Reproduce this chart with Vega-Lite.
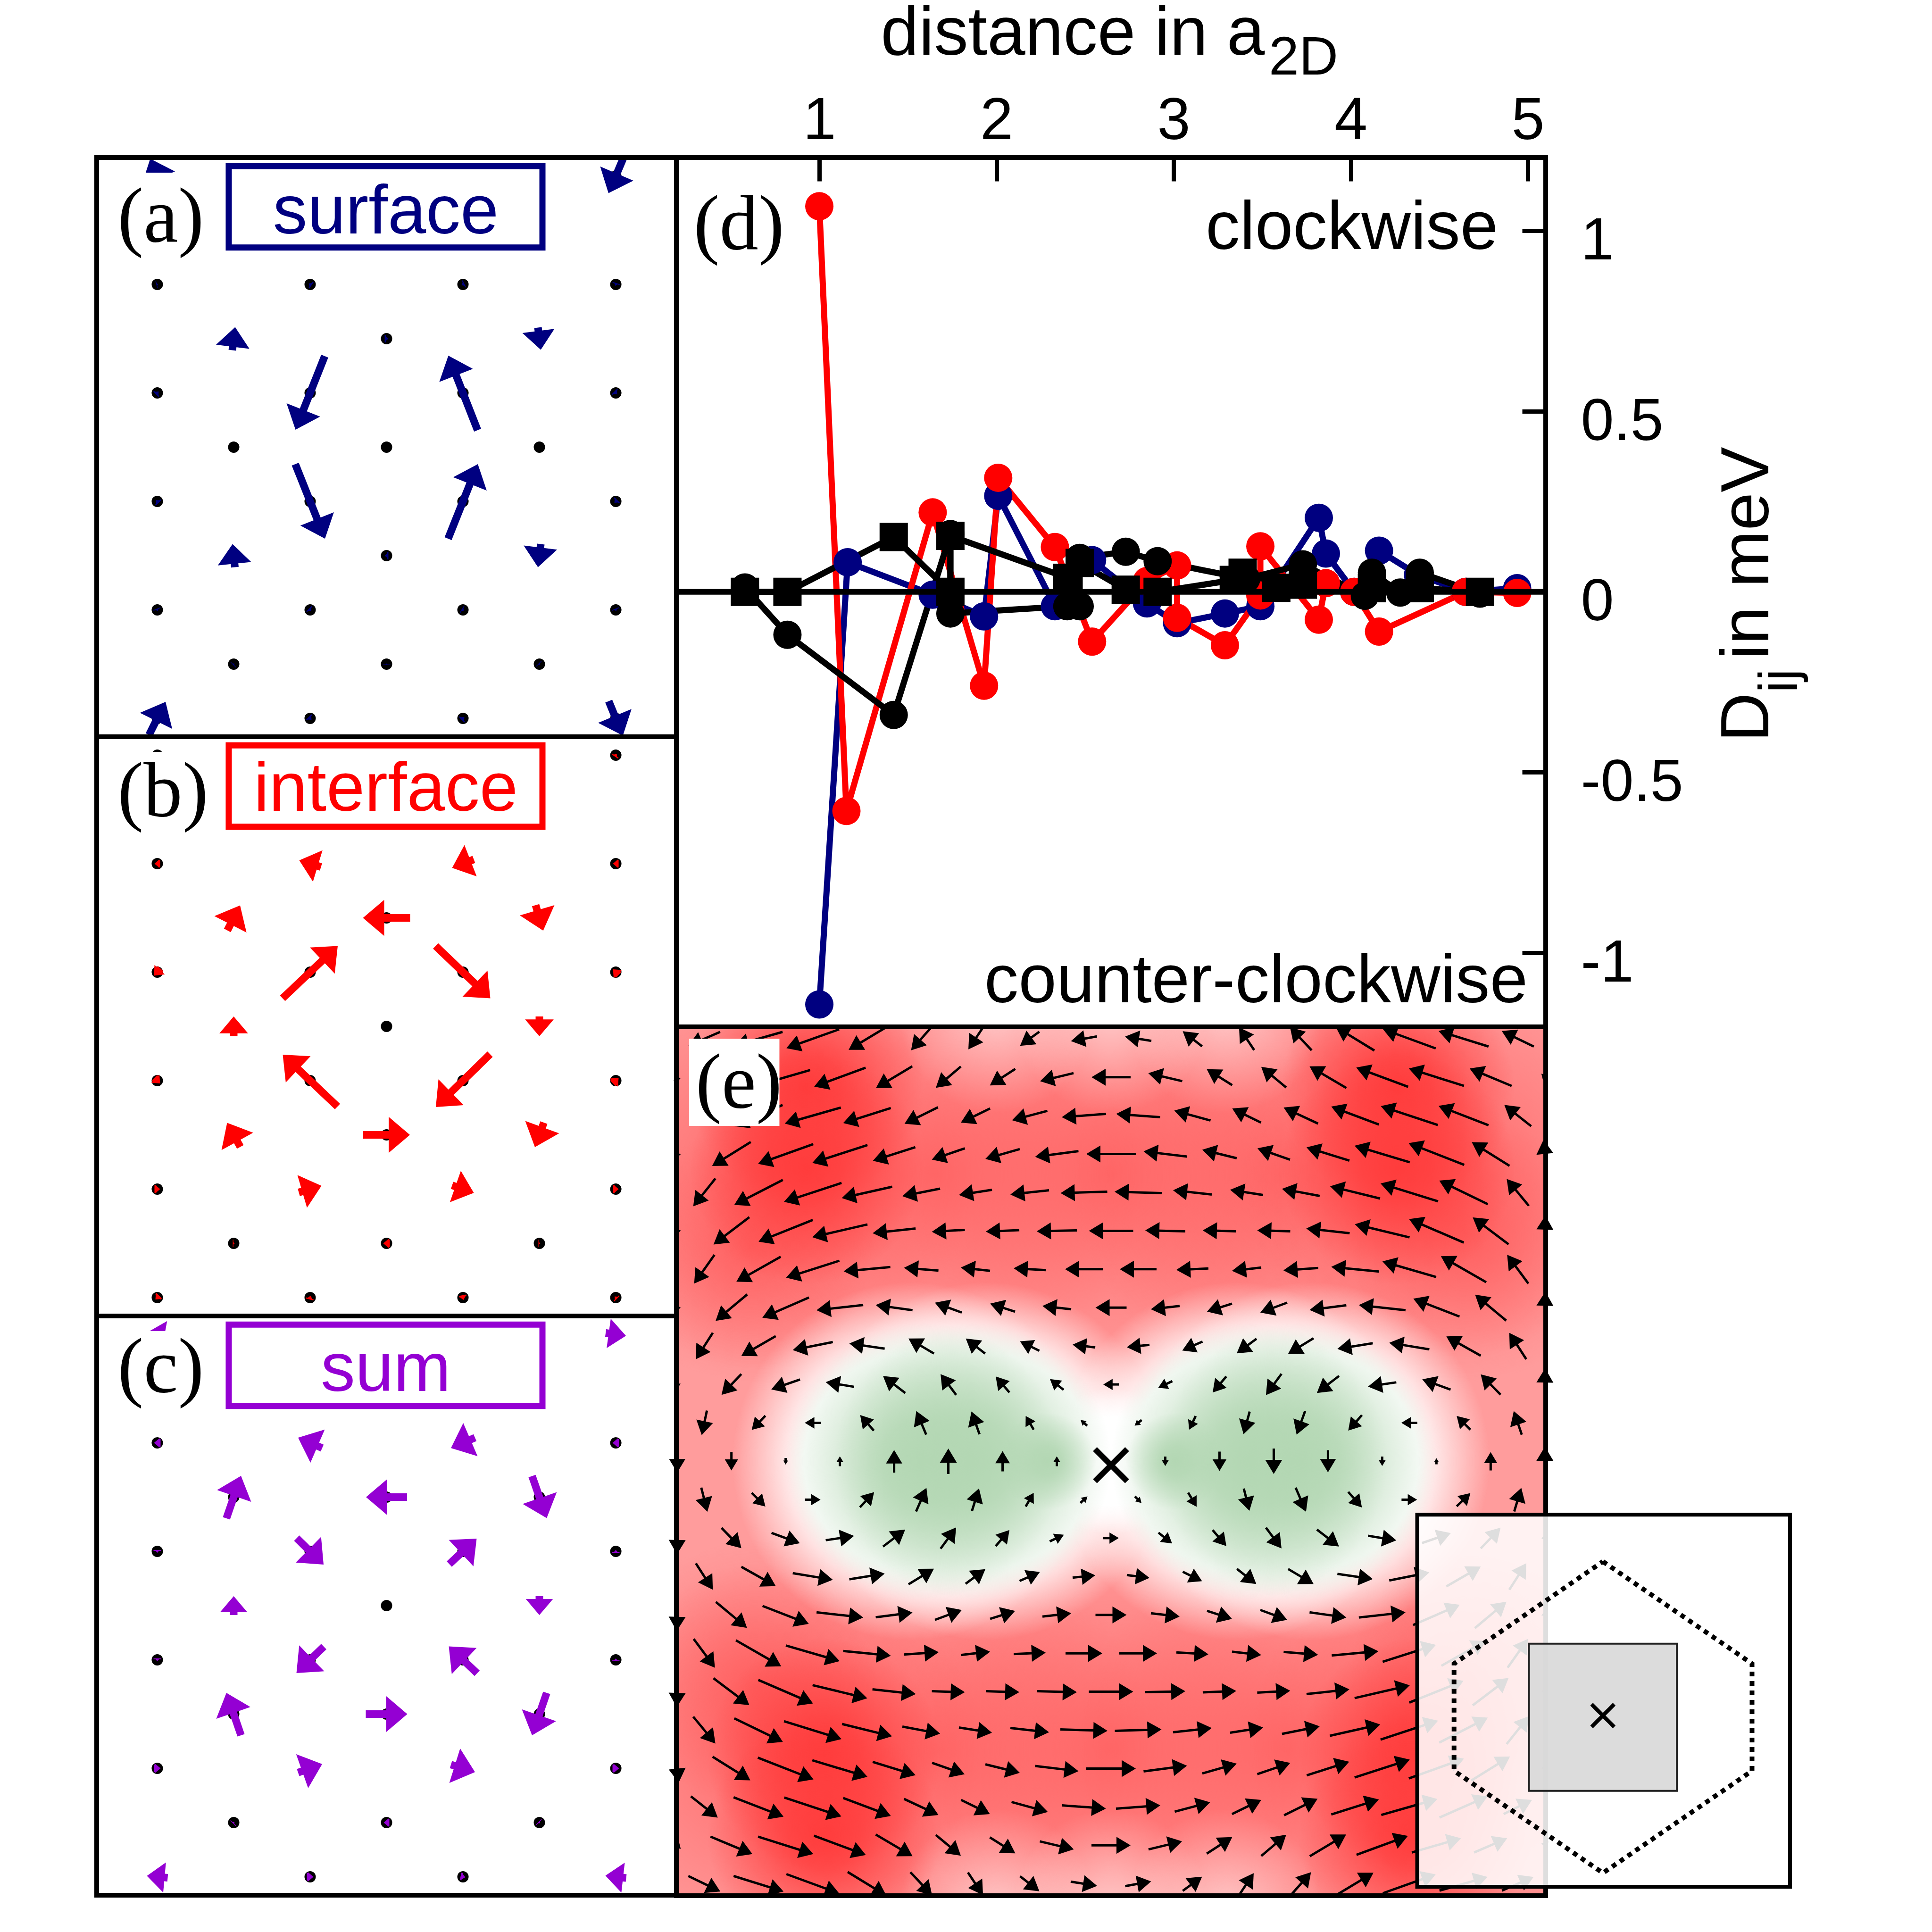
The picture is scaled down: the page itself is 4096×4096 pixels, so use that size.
{"$schema":"https://vega.github.io/schema/vega-lite/v6.json","background":"white","padding":{"left":200,"top":-17,"right":0,"bottom":0},"spacing":-30,"resolve":{"scale":{"color":"independent","shape":"independent","stroke":"independent"}},"config":{"font":"Liberation Sans","axis":{"disable":true},"view":{"stroke":"black","strokeWidth":10}},
"datasets":{
"lat":[{"x":-3,"y":5},{"x":-1,"y":5},{"x":1,"y":5},{"x":3,"y":5},{"x":-2,"y":4},{"x":0,"y":4},{"x":2,"y":4},{"x":-3,"y":3},{"x":-1,"y":3},{"x":1,"y":3},{"x":3,"y":3},{"x":-2,"y":2},{"x":0,"y":2},{"x":2,"y":2},{"x":-3,"y":1},{"x":-1,"y":1},{"x":1,"y":1},{"x":3,"y":1},{"x":-2,"y":0},{"x":0,"y":0},{"x":2,"y":0},{"x":-3,"y":-1},{"x":-1,"y":-1},{"x":1,"y":-1},{"x":3,"y":-1},{"x":-2,"y":-2},{"x":0,"y":-2},{"x":2,"y":-2},{"x":-3,"y":-3},{"x":-1,"y":-3},{"x":1,"y":-3},{"x":3,"y":-3},{"x":-2,"y":-4},{"x":0,"y":-4},{"x":2,"y":-4},{"x":-3,"y":-5},{"x":-1,"y":-5},{"x":1,"y":-5},{"x":3,"y":-5}],
"labels":[{"p":"a","t":"(a)","n":"surface","x":-3.52,"y":3.79,"ny":3.94},{"p":"b","t":"(b)","n":"interface","x":-3.52,"y":3.88,"ny":3.97},{"p":"c","t":"(c)","n":"sum","x":-3.52,"y":3.94,"ny":3.96}],
"spins":[
{"p":"a","x":-1,"y":1,"u":-62,"v":-156},{"p":"a","x":1,"y":1,"u":-62,"v":158},{"p":"a","x":-1,"y":-1,"u":63,"v":-158},{"p":"a","x":1,"y":-1,"u":63,"v":158},{"p":"a","x":-2,"y":2,"u":6,"v":49},{"p":"a","x":2,"y":2,"u":6,"v":-47},{"p":"a","x":-2,"y":-2,"u":-5,"v":49},{"p":"a","x":2,"y":-2,"u":-6,"v":-49},{"p":"a","x":3,"y":5,"u":-31,"v":-73},{"p":"a","x":3,"y":-5,"u":30,"v":-73},{"p":"a","x":-3,"y":-5,"u":35,"v":70},{"p":"a","x":-3,"y":5,"u":-30,"v":73},
{"p":"a","x":-3,"y":3,"u":4,"v":1},{"p":"a","x":-1,"y":3,"u":-6,"v":4},{"p":"a","x":1,"y":3,"u":-6,"v":-3},{"p":"a","x":3,"y":3,"u":-2,"v":-6},{"p":"a","x":0,"y":2,"u":8,"v":0},{"p":"a","x":-3,"y":1,"u":6,"v":6},{"p":"a","x":3,"y":1,"u":6,"v":-6},{"p":"a","x":-3,"y":-1,"u":-6,"v":6},{"p":"a","x":3,"y":-1,"u":-6,"v":-6},{"p":"a","x":0,"y":-2,"u":-8,"v":0},{"p":"a","x":-3,"y":-3,"u":2,"v":-5},{"p":"a","x":-1,"y":-3,"u":5,"v":-5},{"p":"a","x":1,"y":-3,"u":5,"v":-3},{"p":"a","x":3,"y":-3,"u":2,"v":-5},{"p":"a","x":-2,"y":-4,"u":3,"v":3},{"p":"a","x":0,"y":-4,"u":0,"v":3},{"p":"a","x":2,"y":-4,"u":3,"v":-3},{"p":"a","x":-1,"y":-5,"u":6,"v":-6},{"p":"a","x":1,"y":-5,"u":6,"v":6},
{"p":"b","x":-1,"y":1,"u":117,"v":111},{"p":"b","x":1,"y":1,"u":116,"v":-111},{"p":"b","x":-1,"y":-1,"u":-116,"v":110},{"p":"b","x":1,"y":-1,"u":-115,"v":-112},{"p":"b","x":0,"y":2,"u":-100,"v":0},{"p":"b","x":0,"y":-2,"u":99,"v":0},{"p":"b","x":-2,"y":0,"u":0,"v":42},{"p":"b","x":2,"y":0,"u":0,"v":-42},{"p":"b","x":-2,"y":2,"u":27,"v":53},{"p":"b","x":2,"y":2,"u":16,"v":-54},{"p":"b","x":-2,"y":-2,"u":-28,"v":51},{"p":"b","x":2,"y":-2,"u":-19,"v":-52},{"p":"b","x":-1,"y":3,"u":-46,"v":14},{"p":"b","x":1,"y":3,"u":-46,"v":-18},{"p":"b","x":-1,"y":-3,"u":48,"v":14},{"p":"b","x":1,"y":-3,"u":46,"v":-16},
{"p":"b","x":-3,"y":3,"u":-12,"v":0},{"p":"b","x":3,"y":3,"u":-12,"v":0},{"p":"b","x":-3,"y":1,"u":-14,"v":-15},{"p":"b","x":3,"y":1,"u":-12,"v":12},{"p":"b","x":-3,"y":-1,"u":12,"v":-12},{"p":"b","x":3,"y":-1,"u":12,"v":12},{"p":"b","x":-3,"y":-3,"u":12,"v":0},{"p":"b","x":3,"y":-3,"u":12,"v":0},{"p":"b","x":-2,"y":-4,"u":4,"v":0},{"p":"b","x":0,"y":-4,"u":-14,"v":0},{"p":"b","x":2,"y":-4,"u":4,"v":0},{"p":"b","x":-3,"y":-5,"u":-8,"v":-8},{"p":"b","x":-1,"y":-5,"u":2,"v":8},{"p":"b","x":1,"y":-5,"u":2,"v":-10},{"p":"b","x":3,"y":-5,"u":-5,"v":5},{"p":"b","x":3,"y":5,"u":4,"v":6},
{"p":"c","x":-1,"y":1,"u":57,"v":-56},{"p":"c","x":1,"y":1,"u":58,"v":54},{"p":"c","x":-1,"y":-1,"u":-58,"v":-56},{"p":"c","x":1,"y":-1,"u":-60,"v":57},{"p":"c","x":0,"y":2,"u":-87,"v":0},{"p":"c","x":0,"y":-2,"u":88,"v":0},{"p":"c","x":-2,"y":2,"u":31,"v":90},{"p":"c","x":2,"y":2,"u":31,"v":-89},{"p":"c","x":-2,"y":-2,"u":-31,"v":90},{"p":"c","x":2,"y":-2,"u":-31,"v":-90},{"p":"c","x":-2,"y":0,"u":0,"v":40},{"p":"c","x":2,"y":0,"u":0,"v":-40},{"p":"c","x":-1,"y":3,"u":-51,"v":22},{"p":"c","x":1,"y":3,"u":-51,"v":-22},{"p":"c","x":-1,"y":-3,"u":51,"v":18},{"p":"c","x":1,"y":-3,"u":51,"v":-16},{"p":"c","x":3,"y":5,"u":43,"v":-6},{"p":"c","x":-3,"y":5,"u":-43,"v":8},{"p":"c","x":-3,"y":-5,"u":-44,"v":4},{"p":"c","x":3,"y":-5,"u":-44,"v":5},
{"p":"c","x":-3,"y":3,"u":-14,"v":0},{"p":"c","x":3,"y":3,"u":-14,"v":0},{"p":"c","x":-3,"y":1,"u":0,"v":-6},{"p":"c","x":3,"y":1,"u":0,"v":6},{"p":"c","x":-3,"y":-1,"u":0,"v":-6},{"p":"c","x":3,"y":-1,"u":0,"v":6},{"p":"c","x":-3,"y":-3,"u":14,"v":0},{"p":"c","x":3,"y":-3,"u":14,"v":0},{"p":"c","x":-2,"y":-4,"u":3,"v":3},{"p":"c","x":0,"y":-4,"u":-12,"v":0},{"p":"c","x":2,"y":-4,"u":3,"v":-3},{"p":"c","x":-1,"y":-5,"u":14,"v":0},{"p":"c","x":1,"y":-5,"u":10,"v":-2}],
"dmi":[
{"s":"a","x":1.0,"y":-1.143},{"s":"a","x":1.16,"y":0.082},{"s":"a","x":1.64,"y":-0.008},{"s":"a","x":1.93,"y":-0.068},{"s":"a","x":2.01,"y":0.266},{"s":"a","x":2.33,"y":-0.04},{"s":"a","x":2.54,"y":0.088},{"s":"a","x":2.85,"y":-0.032},{"s":"a","x":3.02,"y":-0.087},{"s":"a","x":3.29,"y":-0.06},{"s":"a","x":3.49,"y":-0.04},{"s":"a","x":3.82,"y":0.205},{"s":"a","x":3.86,"y":0.106},{"s":"a","x":4.02,"y":0.0},{"s":"a","x":4.16,"y":0.114},{"s":"a","x":4.38,"y":0.047},{"s":"a","x":4.65,"y":0.0},{"s":"a","x":4.94,"y":0.01},
{"s":"b","x":1.0,"y":1.068},{"s":"b","x":1.153,"y":-0.607},{"s":"b","x":1.64,"y":0.22},{"s":"b","x":1.93,"y":-0.26},{"s":"b","x":2.01,"y":0.316},{"s":"b","x":2.33,"y":0.124},{"s":"b","x":2.54,"y":-0.138},{"s":"b","x":2.85,"y":0.03},{"s":"b","x":3.02,"y":0.073},{"s":"b","x":3.02,"y":-0.072},{"s":"b","x":3.29,"y":-0.148},{"s":"b","x":3.49,"y":-0.01},{"s":"b","x":3.49,"y":0.126},{"s":"b","x":3.82,"y":-0.077},{"s":"b","x":3.86,"y":0.024},{"s":"b","x":4.02,"y":0.0},{"s":"b","x":4.16,"y":-0.11},{"s":"b","x":4.65,"y":0.0},{"s":"b","x":4.94,"y":-0.003},
{"s":"c","x":0.58,"y":0.012},{"s":"c","x":0.82,"y":-0.119},{"s":"c","x":1.42,"y":-0.341},{"s":"c","x":1.74,"y":0.16},{"s":"c","x":1.74,"y":-0.06},{"s":"c","x":2.4,"y":-0.04},{"s":"c","x":2.47,"y":-0.04},{"s":"c","x":2.47,"y":0.094},{"s":"c","x":2.73,"y":0.111},{"s":"c","x":2.91,"y":0.085},{"s":"c","x":3.41,"y":0.036},{"s":"c","x":3.73,"y":0.076},{"s":"c","x":4.08,"y":-0.011},{"s":"c","x":4.12,"y":0.053},{"s":"c","x":4.28,"y":-0.002},{"s":"c","x":4.39,"y":0.053},{"s":"c","x":4.73,"y":-0.005},
{"s":"d","x":0.58,"y":0.0},{"s":"d","x":0.82,"y":0.0},{"s":"d","x":1.42,"y":0.152},{"s":"d","x":1.74,"y":0.0},{"s":"d","x":1.74,"y":0.155},{"s":"d","x":2.4,"y":0.039},{"s":"d","x":2.47,"y":0.08},{"s":"d","x":2.73,"y":0.006},{"s":"d","x":2.91,"y":0.0},{"s":"d","x":3.34,"y":0.033},{"s":"d","x":3.39,"y":0.053},{"s":"d","x":3.58,"y":0.011},{"s":"d","x":3.73,"y":0.02},{"s":"d","x":4.12,"y":0.01},{"s":"d","x":4.39,"y":0.01},{"s":"d","x":4.73,"y":0.0}],
"blobs":[
{"k":"r","x":-12.8,"y":7.48,"r":7.72},{"k":"r","x":-6.45,"y":7.48,"r":7.72},{"k":"r","x":0,"y":7.48,"r":7.72},{"k":"r","x":6.27,"y":7.48,"r":7.72},{"k":"r","x":12.6,"y":7.48,"r":7.72},
{"k":"r","x":-12.6,"y":-7.48,"r":7.72},{"k":"r","x":-6.27,"y":-7.48,"r":7.72},{"k":"r","x":0,"y":-7.48,"r":7.72},{"k":"r","x":6.45,"y":-7.48,"r":7.72},{"k":"r","x":12.8,"y":-7.48,"r":7.72},
{"k":"r","x":-13.3,"y":5.55,"r":4.5},{"k":"r","x":13.1,"y":5.87,"r":4.5},{"k":"r","x":13.3,"y":-5.55,"r":4.5},{"k":"r","x":-13.1,"y":-5.87,"r":4.5},
{"k":"R","x":-11.22,"y":9.72,"r":4.3},{"k":"R","x":-11.22,"y":7.64,"r":4.3},{"k":"R","x":10.58,"y":9.72,"r":4.3},{"k":"R","x":10.58,"y":7.64,"r":4.3},{"k":"R","x":-10.58,"y":-7.64,"r":4.3},{"k":"R","x":-10.58,"y":-9.72,"r":4.3},{"k":"R","x":11.22,"y":-7.64,"r":4.3},{"k":"R","x":11.22,"y":-9.72,"r":4.3},
{"k":"w","x":-4.18,"y":11.6,"r":3.6},{"k":"w","x":0,"y":11.6,"r":3.6},{"k":"w","x":4.18,"y":11.6,"r":3.6},{"k":"w","x":-4.18,"y":-11.6,"r":3.6},{"k":"w","x":0,"y":-11.6,"r":3.6},{"k":"w","x":4.18,"y":-11.6,"r":3.6},
{"k":"W","x":-7.36,"y":0,"r":6.6},{"k":"W","x":-4.63,"y":0,"r":6.6},{"k":"W","x":4.63,"y":0,"r":6.6},{"k":"W","x":7.36,"y":0,"r":6.6},{"k":"W","x":0,"y":0,"r":2.7},
{"k":"g","x":-6.9,"y":0,"r":5.1},{"k":"g","x":-5.1,"y":0,"r":5.1},{"k":"g","x":-2.36,"y":0,"r":1.8},{"k":"g","x":6.9,"y":0,"r":5.1},{"k":"g","x":5.1,"y":0,"r":5.1},{"k":"g","x":2.36,"y":0,"r":1.8}],
"field":[
{"x":-15,"y":11,"u":-67,"v":-29},{"x":-13,"y":11,"u":-102,"v":-29},{"x":-11,"y":11,"u":-112,"v":-40},{"x":-9,"y":11,"u":-78,"v":-47},{"x":-7,"y":11,"u":-43,"v":-49},{"x":-5,"y":11,"u":-30,"v":-45},{"x":-3,"y":11,"u":-41,"v":-30},{"x":-1,"y":11,"u":-55,"v":-10},{"x":1,"y":11,"u":-56,"v":9},{"x":3,"y":11,"u":-41,"v":32},{"x":5,"y":11,"u":-32,"v":48},{"x":7,"y":11,"u":-46,"v":49},{"x":9,"y":11,"u":-82,"v":50},{"x":11,"y":11,"u":-112,"v":41},{"x":13,"y":11,"u":-106,"v":33},{"x":15,"y":11,"u":-68,"v":33},
{"x":-16,"y":10,"u":-15,"v":-17},{"x":-14,"y":10,"u":-70,"v":-30},{"x":-12,"y":10,"u":-104,"v":-30},{"x":-10,"y":10,"u":-109,"v":-40},{"x":-8,"y":10,"u":-77,"v":-46},{"x":-6,"y":10,"u":-53,"v":-45},{"x":-4,"y":10,"u":-54,"v":-35},{"x":-2,"y":10,"u":-71,"v":-17},{"x":0,"y":10,"u":-83,"v":0},{"x":2,"y":10,"u":-72,"v":17},{"x":4,"y":10,"u":-54,"v":34},{"x":6,"y":10,"u":-53,"v":44},{"x":8,"y":10,"u":-78,"v":46},{"x":10,"y":10,"u":-110,"v":41},{"x":12,"y":10,"u":-117,"v":37},{"x":14,"y":10,"u":-89,"v":37},{"x":16,"y":10,"u":-15,"v":15},
{"x":-15,"y":9,"u":-60,"v":-30},{"x":-13,"y":9,"u":-102,"v":-45},{"x":-11,"y":9,"u":-119,"v":-34},{"x":-9,"y":9,"u":-101,"v":-32},{"x":-7,"y":9,"u":-71,"v":-35},{"x":-5,"y":9,"u":-62,"v":-30},{"x":-3,"y":9,"u":-75,"v":-20},{"x":-1,"y":9,"u":-94,"v":-7},{"x":1,"y":9,"u":-93,"v":7},{"x":3,"y":9,"u":-77,"v":21},{"x":5,"y":9,"u":-61,"v":30},{"x":7,"y":9,"u":-73,"v":34},{"x":9,"y":9,"u":-101,"v":38},{"x":11,"y":9,"u":-121,"v":40},{"x":13,"y":9,"u":-106,"v":41},{"x":15,"y":9,"u":-57,"v":45},
{"x":-16,"y":8,"u":-6,"v":-20},{"x":-14,"y":8,"u":-82,"v":-51},{"x":-12,"y":8,"u":-117,"v":-42},{"x":-10,"y":8,"u":-117,"v":-38},{"x":-8,"y":8,"u":-90,"v":-29},{"x":-6,"y":8,"u":-70,"v":-24},{"x":-4,"y":8,"u":-73,"v":-21},{"x":-2,"y":8,"u":-92,"v":-12},{"x":0,"y":8,"u":-105,"v":0},{"x":2,"y":8,"u":-92,"v":11},{"x":4,"y":8,"u":-73,"v":18},{"x":6,"y":8,"u":-69,"v":24},{"x":8,"y":8,"u":-91,"v":28},{"x":10,"y":8,"u":-117,"v":35},{"x":12,"y":8,"u":-118,"v":46},{"x":14,"y":8,"u":-80,"v":50},{"x":16,"y":8,"u":-6,"v":60},
{"x":-15,"y":7,"u":-47,"v":-59},{"x":-13,"y":7,"u":-103,"v":-53},{"x":-11,"y":7,"u":-122,"v":-40},{"x":-9,"y":7,"u":-107,"v":-24},{"x":-7,"y":7,"u":-80,"v":-16},{"x":-5,"y":7,"u":-70,"v":-11},{"x":-3,"y":7,"u":-82,"v":-9},{"x":-1,"y":7,"u":-99,"v":-3},{"x":1,"y":7,"u":-100,"v":3},{"x":3,"y":7,"u":-82,"v":9},{"x":5,"y":7,"u":-70,"v":11},{"x":7,"y":7,"u":-80,"v":15},{"x":9,"y":7,"u":-106,"v":26},{"x":11,"y":7,"u":-122,"v":38},{"x":13,"y":7,"u":-103,"v":50},{"x":15,"y":7,"u":-47,"v":57},
{"x":-16,"y":6,"u":-2,"v":-20},{"x":-14,"y":6,"u":-76,"v":-58},{"x":-12,"y":6,"u":-115,"v":-46},{"x":-10,"y":6,"u":-117,"v":-27},{"x":-8,"y":6,"u":-91,"v":-10},{"x":-6,"y":6,"u":-70,"v":-4},{"x":-4,"y":6,"u":-71,"v":-3},{"x":-2,"y":6,"u":-85,"v":-2},{"x":0,"y":6,"u":-94,"v":0},{"x":2,"y":6,"u":-85,"v":2},{"x":4,"y":6,"u":-71,"v":2},{"x":6,"y":6,"u":-70,"v":2},{"x":8,"y":6,"u":-92,"v":10},{"x":10,"y":6,"u":-116,"v":28},{"x":12,"y":6,"u":-116,"v":50},{"x":14,"y":6,"u":-76,"v":57},{"x":16,"y":6,"u":2,"v":65},
{"x":-15,"y":5,"u":-43,"v":-61},{"x":-13,"y":5,"u":-94,"v":-53},{"x":-11,"y":5,"u":-113,"v":-36},{"x":-9,"y":5,"u":-99,"v":-9},{"x":-7,"y":5,"u":-73,"v":6},{"x":-5,"y":5,"u":-62,"v":7},{"x":-3,"y":5,"u":-68,"v":4},{"x":-1,"y":5,"u":-80,"v":0},{"x":1,"y":5,"u":-78,"v":0},{"x":3,"y":5,"u":-68,"v":-3},{"x":5,"y":5,"u":-62,"v":-7},{"x":7,"y":5,"u":-74,"v":-5},{"x":9,"y":5,"u":-101,"v":10},{"x":11,"y":5,"u":-114,"v":33},{"x":13,"y":5,"u":-96,"v":55},{"x":15,"y":5,"u":-45,"v":61},
{"x":-16,"y":4,"u":-2,"v":-20},{"x":-14,"y":4,"u":-67,"v":-56},{"x":-12,"y":4,"u":-99,"v":-43},{"x":-10,"y":4,"u":-99,"v":-11},{"x":-8,"y":4,"u":-78,"v":11},{"x":-6,"y":4,"u":-57,"v":21},{"x":-4,"y":4,"u":-53,"v":17},{"x":-2,"y":4,"u":-61,"v":7},{"x":0,"y":4,"u":-66,"v":0},{"x":2,"y":4,"u":-61,"v":-7},{"x":4,"y":4,"u":-53,"v":-17},{"x":6,"y":4,"u":-57,"v":-21},{"x":8,"y":4,"u":-78,"v":-10},{"x":10,"y":4,"u":-99,"v":11},{"x":12,"y":4,"u":-98,"v":38},{"x":14,"y":4,"u":-66,"v":55},{"x":16,"y":4,"u":2,"v":68},
{"x":-15,"y":3,"u":-36,"v":-56},{"x":-13,"y":3,"u":-73,"v":-42},{"x":-11,"y":3,"u":-85,"v":-17},{"x":-9,"y":3,"u":-75,"v":11},{"x":-7,"y":3,"u":-54,"v":32},{"x":-5,"y":3,"u":-41,"v":32},{"x":-3,"y":3,"u":-41,"v":20},{"x":-1,"y":3,"u":-48,"v":6},{"x":1,"y":3,"u":-48,"v":-5},{"x":3,"y":3,"u":-43,"v":-19},{"x":5,"y":3,"u":-42,"v":-31},{"x":7,"y":3,"u":-54,"v":-33},{"x":9,"y":3,"u":-75,"v":-12},{"x":11,"y":3,"u":-85,"v":14},{"x":13,"y":3,"u":-73,"v":41},{"x":15,"y":3,"u":-36,"v":56},
{"x":-16,"y":2,"u":-1,"v":-20},{"x":-14,"y":2,"u":-42,"v":-44},{"x":-12,"y":2,"u":-61,"v":-21},{"x":-10,"y":2,"u":-60,"v":10},{"x":-8,"y":2,"u":-47,"v":36},{"x":-6,"y":2,"u":-33,"v":44},{"x":-4,"y":2,"u":-29,"v":34},{"x":-2,"y":2,"u":-29,"v":23},{"x":0,"y":2,"u":-33,"v":0},{"x":2,"y":2,"u":-30,"v":-14},{"x":4,"y":2,"u":-29,"v":-34},{"x":6,"y":2,"u":-33,"v":-45},{"x":8,"y":2,"u":-47,"v":-36},{"x":10,"y":2,"u":-60,"v":-9},{"x":12,"y":2,"u":-60,"v":22},{"x":14,"y":2,"u":-42,"v":43},{"x":16,"y":2,"u":1,"v":68},
{"x":-15,"y":1,"u":-11,"v":-52},{"x":-13,"y":1,"u":-29,"v":-30},{"x":-11,"y":1,"u":-34,"v":0},{"x":-9,"y":1,"u":-29,"v":33},{"x":-7,"y":1,"u":-21,"v":50},{"x":-5,"y":1,"u":-17,"v":48},{"x":-3,"y":1,"u":-17,"v":29},{"x":-1,"y":1,"u":-14,"v":12},{"x":1,"y":1,"u":-15,"v":-12},{"x":3,"y":1,"u":-14,"v":-29},{"x":5,"y":1,"u":-13,"v":-48},{"x":7,"y":1,"u":-18,"v":-50},{"x":9,"y":1,"u":-29,"v":-33},{"x":11,"y":1,"u":-34,"v":0},{"x":13,"y":1,"u":-29,"v":29},{"x":15,"y":1,"u":-17,"v":50},
{"x":-16,"y":0,"u":0,"v":-48},{"x":-14,"y":0,"u":0,"v":-39},{"x":-12,"y":0,"u":0,"v":-14},{"x":-10,"y":0,"u":0,"v":21},{"x":-8,"y":0,"u":0,"v":48},{"x":-6,"y":0,"u":0,"v":54},{"x":-4,"y":0,"u":0,"v":43},{"x":-2,"y":0,"u":0,"v":21},{"x":2,"y":0,"u":0,"v":-20},{"x":4,"y":0,"u":0,"v":-41},{"x":6,"y":0,"u":0,"v":-54},{"x":8,"y":0,"u":0,"v":-47},{"x":10,"y":0,"u":0,"v":-20},{"x":12,"y":0,"u":0,"v":13},{"x":14,"y":0,"u":0,"v":39},{"x":16,"y":0,"u":0,"v":62},
{"x":-15,"y":-1,"u":13,"v":-51},{"x":-13,"y":-1,"u":29,"v":-29},{"x":-11,"y":-1,"u":33,"v":0},{"x":-9,"y":-1,"u":30,"v":32},{"x":-7,"y":-1,"u":22,"v":50},{"x":-5,"y":-1,"u":15,"v":48},{"x":-3,"y":-1,"u":17,"v":29},{"x":-1,"y":-1,"u":15,"v":14},{"x":1,"y":-1,"u":14,"v":-14},{"x":3,"y":-1,"u":18,"v":-30},{"x":5,"y":-1,"u":12,"v":-47},{"x":7,"y":-1,"u":22,"v":-51},{"x":9,"y":-1,"u":29,"v":-33},{"x":11,"y":-1,"u":33,"v":0},{"x":13,"y":-1,"u":29,"v":28},{"x":15,"y":-1,"u":15,"v":50},
{"x":-16,"y":-2,"u":-1,"v":-68},{"x":-14,"y":-2,"u":42,"v":-43},{"x":-12,"y":-2,"u":60,"v":-22},{"x":-10,"y":-2,"u":60,"v":9},{"x":-8,"y":-2,"u":47,"v":36},{"x":-6,"y":-2,"u":33,"v":45},{"x":-4,"y":-2,"u":29,"v":34},{"x":-2,"y":-2,"u":30,"v":14},{"x":0,"y":-2,"u":33,"v":0},{"x":2,"y":-2,"u":29,"v":-23},{"x":4,"y":-2,"u":29,"v":-34},{"x":6,"y":-2,"u":33,"v":-44},{"x":8,"y":-2,"u":47,"v":-36},{"x":10,"y":-2,"u":60,"v":-10},{"x":12,"y":-2,"u":61,"v":21},{"x":14,"y":-2,"u":42,"v":44},{"x":16,"y":-2,"u":1,"v":20},
{"x":-15,"y":-3,"u":36,"v":-56},{"x":-13,"y":-3,"u":73,"v":-41},{"x":-11,"y":-3,"u":85,"v":-14},{"x":-9,"y":-3,"u":75,"v":12},{"x":-7,"y":-3,"u":54,"v":33},{"x":-5,"y":-3,"u":42,"v":31},{"x":-3,"y":-3,"u":43,"v":19},{"x":-1,"y":-3,"u":48,"v":5},{"x":1,"y":-3,"u":48,"v":-6},{"x":3,"y":-3,"u":41,"v":-20},{"x":5,"y":-3,"u":41,"v":-32},{"x":7,"y":-3,"u":54,"v":-32},{"x":9,"y":-3,"u":75,"v":-11},{"x":11,"y":-3,"u":85,"v":17},{"x":13,"y":-3,"u":73,"v":42},{"x":15,"y":-3,"u":36,"v":56},
{"x":-16,"y":-4,"u":-2,"v":-68},{"x":-14,"y":-4,"u":66,"v":-55},{"x":-12,"y":-4,"u":98,"v":-38},{"x":-10,"y":-4,"u":99,"v":-11},{"x":-8,"y":-4,"u":78,"v":10},{"x":-6,"y":-4,"u":57,"v":21},{"x":-4,"y":-4,"u":53,"v":17},{"x":-2,"y":-4,"u":61,"v":7},{"x":0,"y":-4,"u":66,"v":0},{"x":2,"y":-4,"u":61,"v":-7},{"x":4,"y":-4,"u":53,"v":-17},{"x":6,"y":-4,"u":57,"v":-21},{"x":8,"y":-4,"u":78,"v":-11},{"x":10,"y":-4,"u":99,"v":11},{"x":12,"y":-4,"u":99,"v":43},{"x":14,"y":-4,"u":67,"v":56},{"x":16,"y":-4,"u":2,"v":20},
{"x":-15,"y":-5,"u":45,"v":-61},{"x":-13,"y":-5,"u":96,"v":-55},{"x":-11,"y":-5,"u":114,"v":-33},{"x":-9,"y":-5,"u":101,"v":-10},{"x":-7,"y":-5,"u":74,"v":5},{"x":-5,"y":-5,"u":62,"v":7},{"x":-3,"y":-5,"u":68,"v":3},{"x":-1,"y":-5,"u":78,"v":0},{"x":1,"y":-5,"u":80,"v":0},{"x":3,"y":-5,"u":68,"v":-4},{"x":5,"y":-5,"u":62,"v":-7},{"x":7,"y":-5,"u":73,"v":-6},{"x":9,"y":-5,"u":99,"v":9},{"x":11,"y":-5,"u":113,"v":36},{"x":13,"y":-5,"u":94,"v":53},{"x":15,"y":-5,"u":43,"v":61},
{"x":-16,"y":-6,"u":-2,"v":-65},{"x":-14,"y":-6,"u":76,"v":-57},{"x":-12,"y":-6,"u":116,"v":-50},{"x":-10,"y":-6,"u":116,"v":-28},{"x":-8,"y":-6,"u":92,"v":-10},{"x":-6,"y":-6,"u":70,"v":-2},{"x":-4,"y":-6,"u":71,"v":-2},{"x":-2,"y":-6,"u":85,"v":-2},{"x":0,"y":-6,"u":94,"v":0},{"x":2,"y":-6,"u":85,"v":2},{"x":4,"y":-6,"u":71,"v":3},{"x":6,"y":-6,"u":70,"v":4},{"x":8,"y":-6,"u":91,"v":10},{"x":10,"y":-6,"u":117,"v":27},{"x":12,"y":-6,"u":115,"v":46},{"x":14,"y":-6,"u":76,"v":58},{"x":16,"y":-6,"u":2,"v":20},
{"x":-15,"y":-7,"u":47,"v":-57},{"x":-13,"y":-7,"u":103,"v":-50},{"x":-11,"y":-7,"u":122,"v":-38},{"x":-9,"y":-7,"u":106,"v":-26},{"x":-7,"y":-7,"u":80,"v":-15},{"x":-5,"y":-7,"u":70,"v":-11},{"x":-3,"y":-7,"u":82,"v":-9},{"x":-1,"y":-7,"u":100,"v":-3},{"x":1,"y":-7,"u":99,"v":3},{"x":3,"y":-7,"u":82,"v":9},{"x":5,"y":-7,"u":70,"v":11},{"x":7,"y":-7,"u":80,"v":16},{"x":9,"y":-7,"u":107,"v":24},{"x":11,"y":-7,"u":122,"v":40},{"x":13,"y":-7,"u":103,"v":53},{"x":15,"y":-7,"u":47,"v":59},
{"x":-16,"y":-8,"u":6,"v":-60},{"x":-14,"y":-8,"u":80,"v":-50},{"x":-12,"y":-8,"u":118,"v":-46},{"x":-10,"y":-8,"u":117,"v":-35},{"x":-8,"y":-8,"u":91,"v":-28},{"x":-6,"y":-8,"u":69,"v":-24},{"x":-4,"y":-8,"u":73,"v":-18},{"x":-2,"y":-8,"u":92,"v":-11},{"x":0,"y":-8,"u":105,"v":0},{"x":2,"y":-8,"u":92,"v":12},{"x":4,"y":-8,"u":73,"v":21},{"x":6,"y":-8,"u":70,"v":24},{"x":8,"y":-8,"u":90,"v":29},{"x":10,"y":-8,"u":117,"v":38},{"x":12,"y":-8,"u":117,"v":42},{"x":14,"y":-8,"u":82,"v":51},{"x":16,"y":-8,"u":6,"v":20},
{"x":-15,"y":-9,"u":57,"v":-45},{"x":-13,"y":-9,"u":106,"v":-41},{"x":-11,"y":-9,"u":121,"v":-40},{"x":-9,"y":-9,"u":101,"v":-38},{"x":-7,"y":-9,"u":73,"v":-34},{"x":-5,"y":-9,"u":61,"v":-30},{"x":-3,"y":-9,"u":77,"v":-21},{"x":-1,"y":-9,"u":93,"v":-7},{"x":1,"y":-9,"u":94,"v":7},{"x":3,"y":-9,"u":75,"v":20},{"x":5,"y":-9,"u":62,"v":30},{"x":7,"y":-9,"u":71,"v":35},{"x":9,"y":-9,"u":101,"v":32},{"x":11,"y":-9,"u":119,"v":34},{"x":13,"y":-9,"u":102,"v":45},{"x":15,"y":-9,"u":60,"v":30},
{"x":-16,"y":-10,"u":15,"v":-15},{"x":-14,"y":-10,"u":89,"v":-37},{"x":-12,"y":-10,"u":117,"v":-37},{"x":-10,"y":-10,"u":110,"v":-41},{"x":-8,"y":-10,"u":78,"v":-46},{"x":-6,"y":-10,"u":53,"v":-44},{"x":-4,"y":-10,"u":54,"v":-34},{"x":-2,"y":-10,"u":72,"v":-17},{"x":0,"y":-10,"u":83,"v":0},{"x":2,"y":-10,"u":71,"v":17},{"x":4,"y":-10,"u":54,"v":35},{"x":6,"y":-10,"u":53,"v":45},{"x":8,"y":-10,"u":77,"v":46},{"x":10,"y":-10,"u":109,"v":40},{"x":12,"y":-10,"u":104,"v":30},{"x":14,"y":-10,"u":70,"v":30},{"x":16,"y":-10,"u":15,"v":17},
{"x":-15,"y":-11,"u":68,"v":-33},{"x":-13,"y":-11,"u":106,"v":-33},{"x":-11,"y":-11,"u":112,"v":-41},{"x":-9,"y":-11,"u":82,"v":-50},{"x":-7,"y":-11,"u":46,"v":-49},{"x":-5,"y":-11,"u":32,"v":-48},{"x":-3,"y":-11,"u":41,"v":-32},{"x":-1,"y":-11,"u":56,"v":-9},{"x":1,"y":-11,"u":55,"v":10},{"x":3,"y":-11,"u":41,"v":30},{"x":5,"y":-11,"u":30,"v":45},{"x":7,"y":-11,"u":43,"v":49},{"x":9,"y":-11,"u":78,"v":47},{"x":11,"y":-11,"u":112,"v":40},{"x":13,"y":-11,"u":102,"v":29},{"x":15,"y":-11,"u":67,"v":29}]
},
"hconcat":[
{"width":1224,"height":3684,"view":{"stroke":null},
"encoding":{"x":{"type":"quantitative","title":null,"scale":{"domain":[-3.793,3.762],"nice":false,"zero":false}},"y":{"type":"quantitative","title":null,"scale":{"domain":[-16.017,16.017],"nice":false,"zero":false}}},
"layer":[
{"data":{"name":"lat"},"transform":[{"calculate":"[10.678,0,-10.678]","as":"o"},{"flatten":["o"]},{"calculate":"datum.y+datum.o","as":"Y"}],"mark":{"type":"point","filled":true,"color":"black","opacity":1,"size":576,"shape":"circle"},"encoding":{"x":{"field":"x"},"y":{"field":"Y"}}},
{"data":{"name":"spins"},"transform":[{"calculate":"datum.p=='a'?10.678:datum.p=='b'?0:-10.678","as":"o"},{"calculate":"sqrt(datum.u*datum.u+datum.v*datum.v)","as":"L"},{"calculate":"atan2(datum.u,datum.v)*180/PI","as":"a"},{"calculate":"min(45,0.85*datum.L)","as":"H"},{"calculate":"datum.H*datum.H","as":"h"},{"calculate":"datum.x+datum.u/324","as":"xt"},{"calculate":"datum.y+datum.o+datum.v/230","as":"yt"},{"calculate":"datum.x-datum.u/324","as":"xb"},{"calculate":"datum.y+datum.o-datum.v/230","as":"yb"},{"calculate":"datum.xt-datum.u/datum.L*0.8*datum.H/162","as":"xm"},{"calculate":"datum.yt-datum.v/datum.L*0.8*datum.H/115","as":"ym"}],
"layer":[
{"mark":{"type":"rule","strokeWidth":16,"clip":true},"encoding":{"x":{"field":"xb"},"x2":{"field":"xm"},"y":{"field":"yb"},"y2":{"field":"ym"},"color":{"field":"p","type":"nominal","legend":null,"scale":{"domain":["a","b","c"],"range":["#000080","#ff0000","#9400d3"]}}}},
{"mark":{"type":"point","filled":true,"opacity":1,"strokeWidth":0,"shape":"M0,0L1.7,2L-1.7,2Z","clip":true},"encoding":{"x":{"field":"xt"},"y":{"field":"yt"},"size":{"field":"h","type":"quantitative","scale":null},"angle":{"field":"a","type":"quantitative","scale":null},"color":{"field":"p","type":"nominal","legend":null,"scale":{"domain":["a","b","c"],"range":["#000080","#ff0000","#9400d3"]}}}}]},
{"data":{"name":"labels"},"transform":[{"calculate":"datum.p=='a'?10.678:datum.p=='b'?0:-10.678","as":"o"},{"calculate":"datum.y+datum.o","as":"Y"},{"calculate":"datum.ny+datum.o","as":"nY"},{"calculate":"5.06+datum.o","as":"w1"},{"calculate":"3.5+datum.o","as":"w0"},{"calculate":"5.18+datum.o","as":"b1"},{"calculate":"3.68+datum.o","as":"b0"}],
"layer":[
{"mark":{"type":"rect","fill":"white"},"encoding":{"x":{"datum":-3.6},"x2":{"datum":-2.25},"y":{"field":"w1"},"y2":{"field":"w0"}}},
{"mark":{"type":"rect","fill":"white","strokeWidth":13},"encoding":{"x":{"datum":-2.065},"x2":{"datum":2.04},"y":{"field":"b1"},"y2":{"field":"b0"},"stroke":{"field":"p","type":"nominal","legend":null,"scale":{"domain":["a","b","c"],"range":["#000080","#ff0000","#9400d3"]}}}},
{"mark":{"type":"text","font":"Liberation Serif","fontSize":165,"align":"left","baseline":"alphabetic","color":"black"},"encoding":{"x":{"field":"x"},"y":{"field":"Y"},"text":{"field":"t"}}},
{"mark":{"type":"text","font":"Liberation Sans","fontSize":146,"align":"center","baseline":"alphabetic"},"encoding":{"x":{"datum":-0.01},"y":{"field":"nY"},"text":{"field":"n"},"color":{"field":"p","type":"nominal","legend":null,"scale":{"domain":["a","b","c"],"range":["#000080","#ff0000","#9400d3"]}}}}]},
{"data":{"values":[{"y":16.017},{"y":5.339},{"y":-5.339},{"y":-16.017}]},"mark":{"type":"rule","strokeWidth":10,"color":"black"},"encoding":{"y":{"field":"y"}}},
{"data":{"values":[{"x":-3.793,"y0":16.06,"y1":-16.06}]},"mark":{"type":"rule","strokeWidth":10,"color":"black"},"encoding":{"x":{"field":"x"},"y":{"field":"y0"},"y2":{"field":"y1"}}},
{"data":{"values":[{"x":0,"y0":16.017,"y1":19.017}]},"mark":{"type":"rule","opacity":0,"strokeWidth":1},"encoding":{"x":{"field":"x"},"y":{"field":"y0"},"y2":{"field":"y1"}}}
]},
{"vconcat":[
{"width":1843,"height":1843,
"encoding":{"x":{"type":"quantitative","title":null,"scale":{"domain":[0.193,5.101],"nice":false,"zero":false},"axis":{"disable":false,"orient":"top","values":[1,2,3,4,5],"format":"d","domain":false,"grid":false,"title":null,"tickSize":-50,"tickWidth":9,"tickColor":"black","labelColor":"black","labelFontSize":126,"labelFont":"Liberation Sans","labelPadding":64,"labelFlush":false,"labelOverlap":false}},"y":{"type":"quantitative","title":null,"scale":{"domain":[-1.205,1.203],"nice":false,"zero":false},"axis":{"disable":false,"orient":"right","values":[-1,-0.5,0,0.5,1],"format":".1~f","labelExpr":"replace(datum.label,'\u2212','-')","domain":false,"grid":false,"title":null,"tickSize":-50,"tickWidth":9,"tickColor":"black","labelColor":"black","labelFontSize":126,"labelFont":"Liberation Sans","labelPadding":124,"labelAlign":"left","labelBaseline":"middle","labelOffset":22,"labelLimit":1000,"labelFlush":false,"labelOverlap":false}}},
"layer":[
{"data":{"name":"dmi"},"layer":[
{"mark":{"type":"line","strokeWidth":13},"encoding":{"x":{"field":"x"},"y":{"field":"y"},"color":{"field":"s","type":"nominal","legend":null,"scale":{"domain":["a","b","c","d"],"range":["#000080","#ff0000","#000000","#000000"]}}}},
{"mark":{"type":"point","filled":true,"opacity":1,"size":3600},"encoding":{"x":{"field":"x"},"y":{"field":"y"},"color":{"field":"s","type":"nominal","legend":null,"scale":{"domain":["a","b","c","d"],"range":["#000080","#ff0000","#000000","#000000"]}},"shape":{"field":"s","type":"nominal","legend":null,"scale":{"domain":["a","b","c","d"],"range":["circle","circle","circle","square"]}}}}]},
{"data":{"values":[{"y":0}]},"mark":{"type":"rule","strokeWidth":12,"color":"black"},"encoding":{"y":{"field":"y"}}},
{"data":{"values":[{"x":3,"y0":1.203,"y1":1.654}]},"mark":{"type":"rule","opacity":0,"strokeWidth":1},"encoding":{"x":{"field":"x"},"y":{"field":"y0"},"y2":{"field":"y1"}}},
{"encoding":{"x":{"field":"x"},"y":{"field":"y"},"text":{"field":"t"}},"layer":[
{"data":{"values":[{"x":4.833,"y":0.949,"t":"clockwise"},{"x":5.0,"y":-1.137,"t":"counter-clockwise"}]},"mark":{"type":"text","fontSize":145,"align":"right","baseline":"alphabetic","color":"black"}},
{"data":{"values":[{"x":1.347,"y":1.488,"t":"distance in a"}]},"mark":{"type":"text","fontSize":145,"align":"left","baseline":"alphabetic","color":"black"}},
{"data":{"values":[{"x":3.538,"y":1.433,"t":"2D"}]},"mark":{"type":"text","fontSize":115,"align":"left","baseline":"alphabetic","color":"black"}},
{"data":{"values":[{"x":6.357,"y":-0.416,"t":"D"},{"x":6.357,"y":-0.188,"t":"in meV"}]},"mark":{"type":"text","fontSize":145,"angle":270,"align":"left","baseline":"alphabetic","color":"black"}},
{"data":{"values":[{"x":6.517,"y":-0.28,"t":"ij"}]},"mark":{"type":"text","fontSize":115,"angle":270,"align":"left","baseline":"alphabetic","color":"black"}},
{"data":{"values":[{"x":0.29,"y":0.949,"t":"(d)"}]},"mark":{"type":"text","font":"Liberation Serif","fontSize":165,"align":"left","baseline":"alphabetic","color":"black"}}]}
]},
{"width":1843,"height":1842,"view":{"fill":"#ff9c9c"},
"encoding":{"x":{"type":"quantitative","title":null,"scale":{"domain":[-16.03,16.03],"nice":false,"zero":false}},"y":{"type":"quantitative","title":null,"scale":{"domain":[-11.31,11.31],"nice":false,"zero":false}}},
"layer":[
{"data":{"name":"blobs"},"transform":[{"calculate":"datum.x-datum.r","as":"x0"},{"calculate":"datum.x+datum.r","as":"x1"},{"calculate":"datum.y-datum.r*0.7064","as":"y0"},{"calculate":"datum.y+datum.r*0.7064","as":"y1"}],"encoding":{"x":{"field":"x0"},"x2":{"field":"x1"},"y":{"field":"y0"},"y2":{"field":"y1"}},"layer":[
{"transform":[{"filter":"datum.k=='r'"}],"mark":{"type":"rect","clip":true,"fill":{"gradient":"radial","stops":[{"offset":0,"color":"rgba(255,85,85,0.7)"},{"offset":1,"color":"rgba(255,85,85,0)"}]}}},
{"transform":[{"filter":"datum.k=='R'"}],"mark":{"type":"rect","clip":true,"fill":{"gradient":"radial","stops":[{"offset":0,"color":"rgba(255,60,60,1)"},{"offset":0.3,"color":"rgba(255,60,60,0.8)"},{"offset":1,"color":"rgba(255,60,60,0)"}]}}},
{"transform":[{"filter":"datum.k=='w'"}],"mark":{"type":"rect","clip":true,"fill":{"gradient":"radial","stops":[{"offset":0,"color":"rgba(255,255,255,0.5)"},{"offset":1,"color":"rgba(255,255,255,0)"}]}}},
{"transform":[{"filter":"datum.k=='W'"}],"mark":{"type":"rect","clip":true,"fill":{"gradient":"radial","stops":[{"offset":0,"color":"rgba(255,255,255,1)"},{"offset":0.6,"color":"rgba(255,255,255,1)"},{"offset":1,"color":"rgba(255,255,255,0)"}]}}},
{"transform":[{"filter":"datum.k=='g'"}],"mark":{"type":"rect","clip":true,"fill":{"gradient":"radial","stops":[{"offset":0,"color":"rgba(179,215,179,1)"},{"offset":0.3,"color":"rgba(179,215,179,0.85)"},{"offset":1,"color":"rgba(179,215,179,0)"}]}}}]},
{"data":{"name":"field"},"transform":[{"calculate":"sqrt(datum.u*datum.u+datum.v*datum.v)","as":"L"},{"calculate":"atan2(datum.u,datum.v)*180/PI","as":"a"},{"calculate":"min(30,0.6*datum.L)","as":"H"},{"calculate":"datum.H*datum.H","as":"h"},{"calculate":"datum.x+datum.u/115","as":"xt"},{"calculate":"datum.y+datum.v/162.8","as":"yt"},{"calculate":"datum.x-datum.u/115","as":"xb"},{"calculate":"datum.y-datum.v/162.8","as":"yb"},{"calculate":"datum.xt-datum.u/datum.L*0.8*datum.H/57.5","as":"xm"},{"calculate":"datum.yt-datum.v/datum.L*0.8*datum.H/81.4","as":"ym"}],
"layer":[
{"transform":[{"filter":"abs(datum.x)<16"}],"mark":{"type":"rule","strokeWidth":5,"color":"black","clip":true},"encoding":{"x":{"field":"xb"},"x2":{"field":"xm"},"y":{"field":"yb"},"y2":{"field":"ym"}}},
{"transform":[{"filter":"abs(datum.x)<16"}],"mark":{"type":"point","filled":true,"opacity":1,"strokeWidth":0,"color":"black","shape":"M0,0L1.2,2L-1.2,2Z","clip":true},"encoding":{"x":{"field":"xt"},"y":{"field":"yt"},"size":{"field":"h","type":"quantitative","scale":null},"angle":{"field":"a","type":"quantitative","scale":null}}},
{"transform":[{"filter":"abs(datum.x)>=16"}],"mark":{"type":"point","filled":true,"opacity":1,"strokeWidth":0,"color":"black","shape":"M0,0L1.2,2L-1.2,2Z"},"encoding":{"x":{"field":"xt"},"y":{"field":"yt"},"size":{"field":"h","type":"quantitative","scale":null},"angle":{"field":"a","type":"quantitative","scale":null}}}]},
{"data":{"values":[{"x":0,"y":-0.1}]},"mark":{"type":"point","shape":"M-1,-1L1,1M-1,1L1,-1","filled":false,"stroke":"black","opacity":1,"strokeWidth":12,"size":4624},"encoding":{"x":{"field":"x"},"y":{"field":"y"}}},
{"data":{"values":[{"x0":-15.56,"x1":-12.23,"y0":11.0,"y1":8.73}]},"mark":{"type":"rect","fill":"white"},"encoding":{"x":{"field":"x0"},"x2":{"field":"x1"},"y":{"field":"y0"},"y2":{"field":"y1"}}},
{"data":{"values":[{"x":-15.32,"y":9.21,"t":"(e)"}]},"mark":{"type":"text","font":"Liberation Serif","fontSize":165,"align":"left","baseline":"alphabetic","color":"black"},"encoding":{"x":{"field":"x"},"y":{"field":"y"},"text":{"field":"t"}}},
{"data":{"values":[{"x0":-16.03,"x1":16.03,"y0":-11.31,"y1":11.31}]},"mark":{"type":"rect","filled":false,"stroke":"black","strokeWidth":10},"encoding":{"x":{"field":"x0"},"x2":{"field":"x1"},"y":{"field":"y0"},"y2":{"field":"y1"}}},
{"data":{"values":[{"x0":11.29,"x1":25.04,"y0":-1.39,"y1":-11.08}]},"mark":{"type":"rect","fill":"white","fillOpacity":0.87,"stroke":"black","strokeWidth":8},"encoding":{"x":{"field":"x0"},"x2":{"field":"x1"},"y":{"field":"y0"},"y2":{"field":"y1"}}},
{"data":{"values":[{"k":0,"x":18.14,"y":-2.61},{"k":1,"x":23.64,"y":-5.27},{"k":2,"x":23.64,"y":-8.06},{"k":3,"x":18.14,"y":-10.72},{"k":4,"x":12.65,"y":-8.06},{"k":5,"x":12.65,"y":-5.27},{"k":6,"x":18.14,"y":-2.61}]},"mark":{"type":"line","color":"black","strokeWidth":10,"strokeDash":[10,10]},"encoding":{"x":{"field":"x"},"y":{"field":"y"},"order":{"field":"k"}}},
{"data":{"values":[{"x0":15.41,"x1":20.87,"y0":-4.75,"y1":-8.58}]},"mark":{"type":"rect","fill":"#d8d8d8","fillOpacity":0.9,"stroke":"#222222","strokeWidth":4},"encoding":{"x":{"field":"x0"},"x2":{"field":"x1"},"y":{"field":"y0"},"y2":{"field":"y1"}}},
{"data":{"values":[{"x":18.14,"y":-6.62}]},"mark":{"type":"point","shape":"M-1,-1L1,1M-1,1L1,-1","filled":false,"stroke":"black","opacity":1,"strokeWidth":8,"size":2300},"encoding":{"x":{"field":"x"},"y":{"field":"y"}}}
]}
],"spacing":0,"bounds":"flush"}
]}
